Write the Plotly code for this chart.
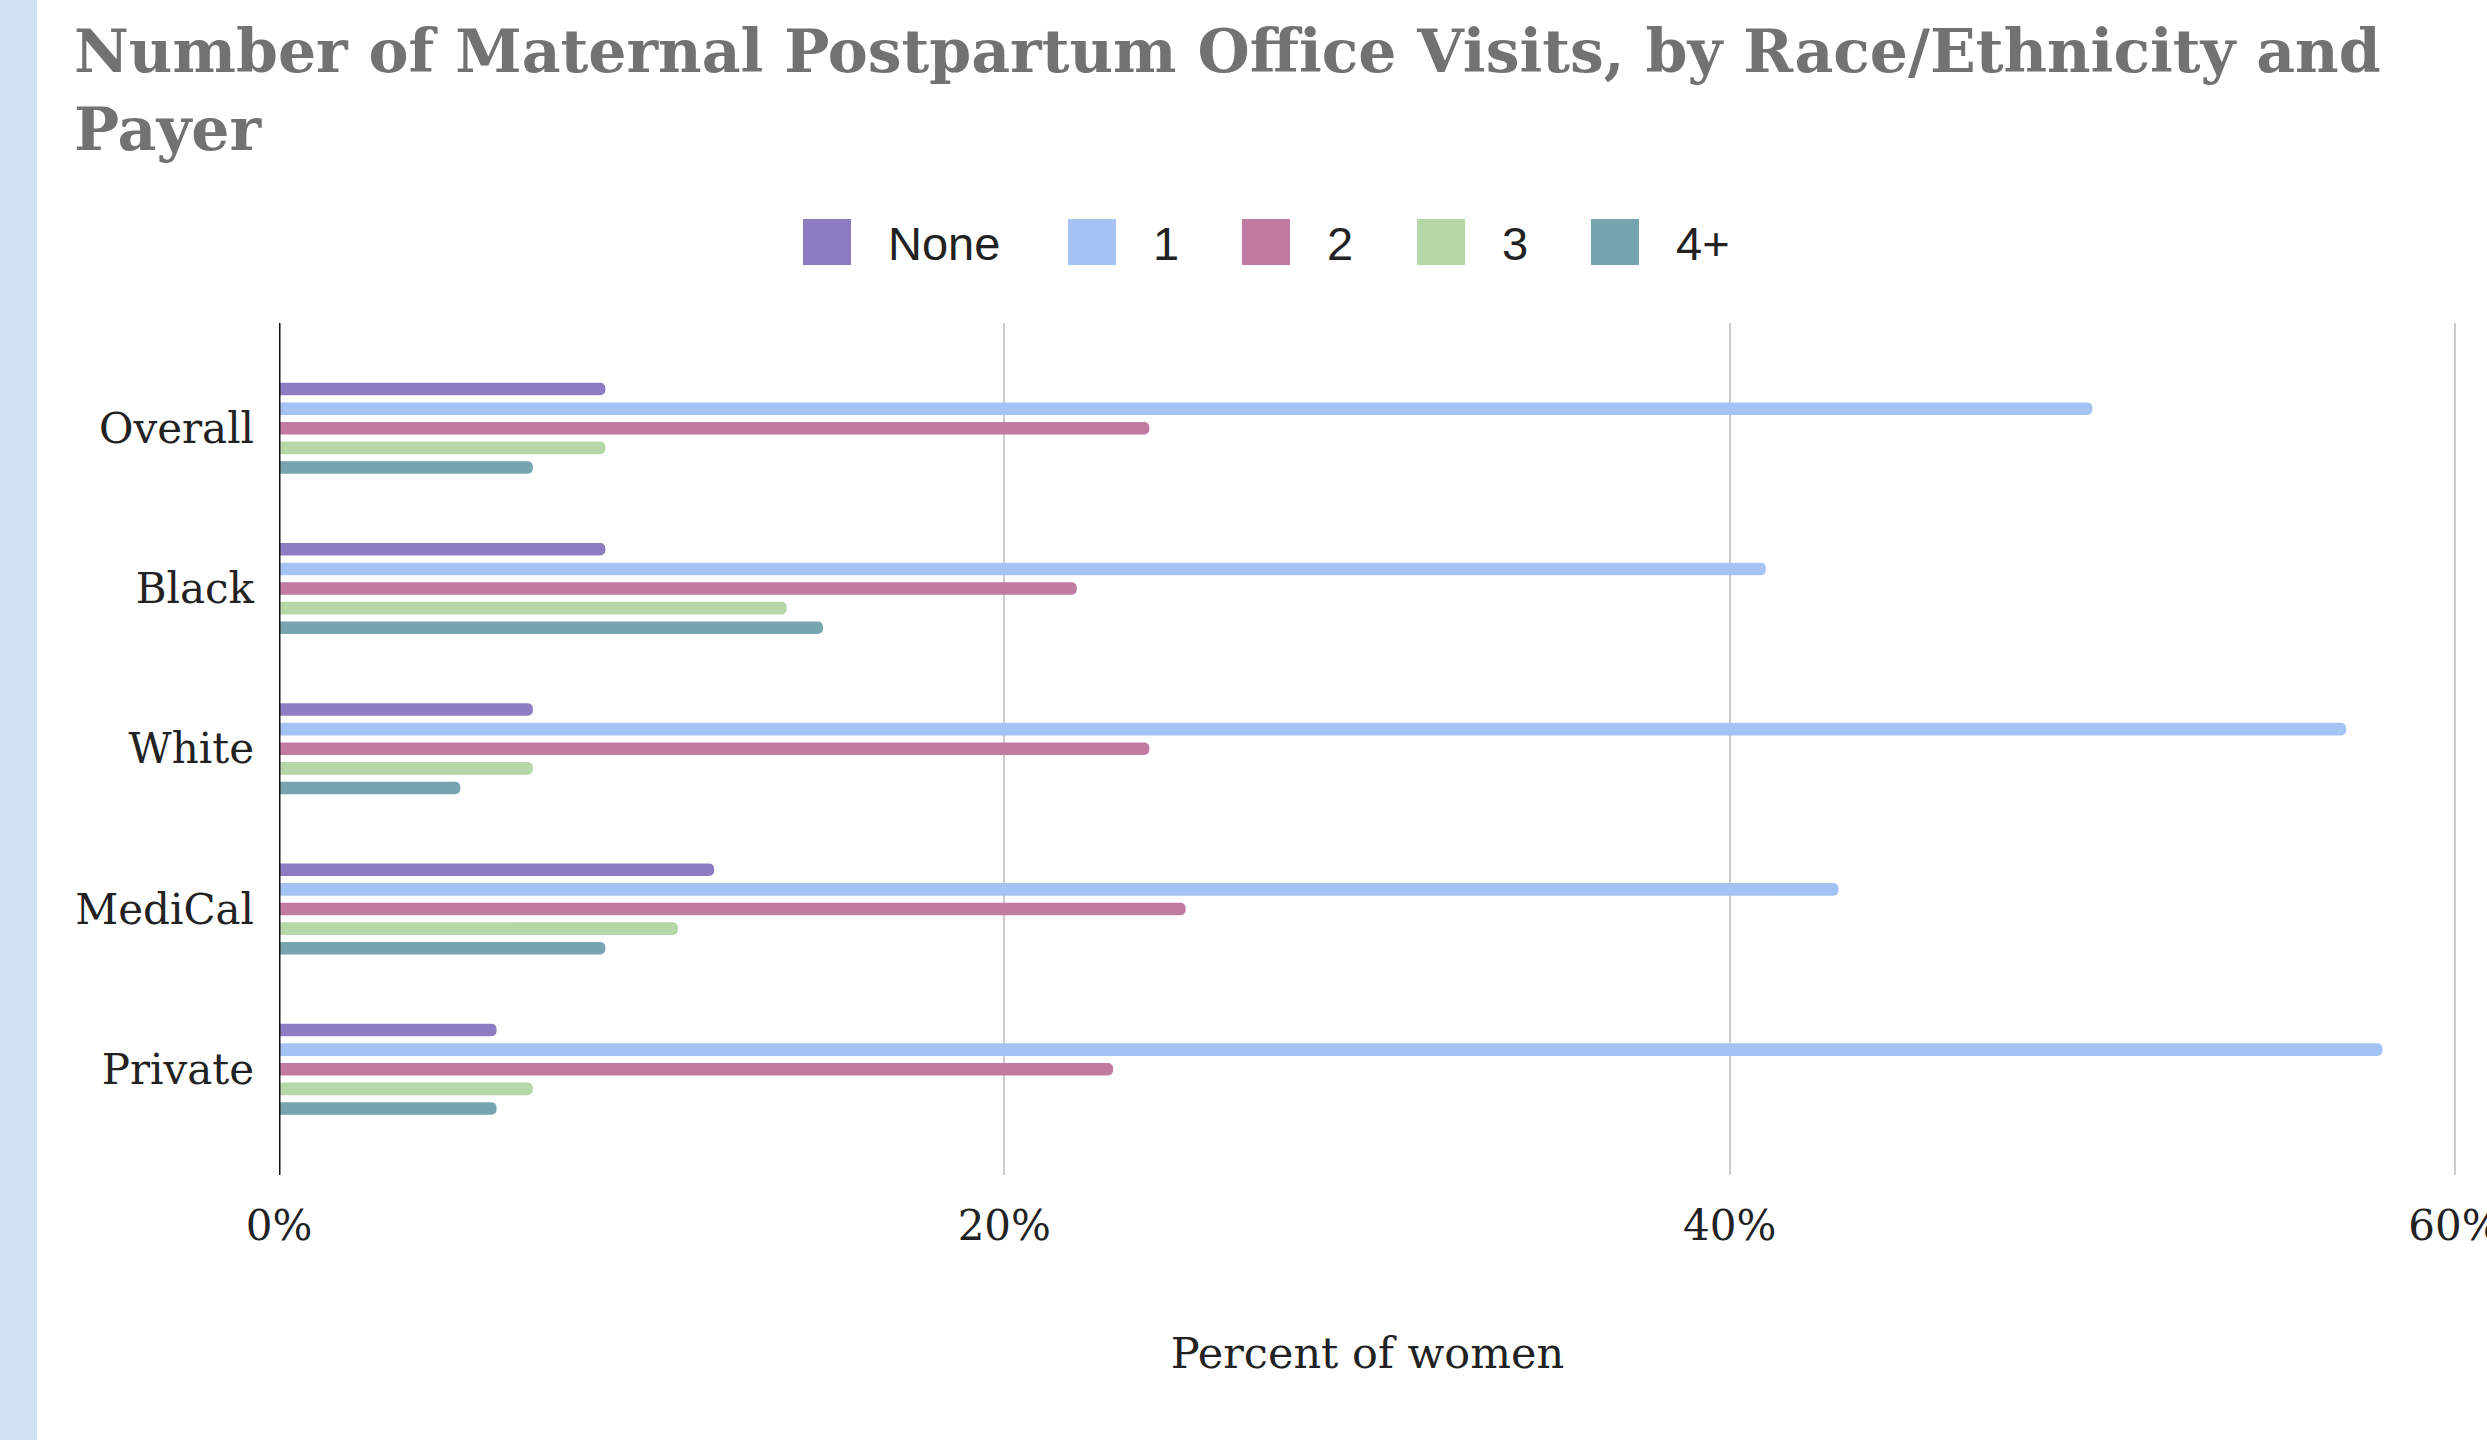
import plotly.graph_objects as go

# ---- data ----
categories = ["Overall", "Black", "White", "MediCal", "Private"]
series_names = ["None", "1", "2", "3", "4+"]
visits_none = [9, 9, 7, 12, 6]
visits_1 = [50, 41, 57, 43, 58]
visits_2 = [24, 22, 24, 25, 23]
visits_3 = [9, 14, 7, 11, 7]
visits_4plus = [7, 15, 5, 9, 6]
series_colors = ["#8e7cc3", "#a4c2f4", "#c27ba0", "#b6d7a8", "#76a5af"]
x_tick_vals = [0, 20, 40, 60]
x_tick_text = ["0%", "20%", "40%", "60%"]
title_text = "Number of Maternal Postpartum Office Visits, by Race/Ethnicity and<br>Payer"
x_title_text = "Percent of women"

series_values = [visits_none, visits_1, visits_2, visits_3, visits_4plus]

# ---- layout geometry (pixels) ----
W, H = 2487, 1440
ML, MR, MT, MB = 279, 31, 323, 265
PW, PH = W - ML - MR, H - MT - MB


def px_x(px):
    return (px - ML) / PW


def px_y(py):
    return (H - MB - py) / PH


fig = go.Figure()
for name, vals, col in zip(series_names, series_values, series_colors):
    fig.add_trace(go.Bar(
        y=categories, x=vals, name=name, orientation="h",
        marker=dict(color=col, line=dict(width=0), cornerradius=5),
        showlegend=False,
    ))

shapes = []
annotations = []

# left decorative strip
shapes.append(dict(type="rect", xref="paper", yref="paper",
                   x0=px_x(-5), x1=px_x(37), y0=px_y(H + 5), y1=px_y(-5),
                   fillcolor="#cfe2f3", line=dict(width=0), layer="below"))

# title
annotations.append(dict(xref="paper", yref="paper", x=px_x(72), y=px_y(14),
                        xanchor="left", yanchor="top", align="left", showarrow=False,
                        text=title_text,
                        font=dict(family="DejaVu Serif, serif", size=60,
                                  color="#727272", weight="bold")))

# custom legend
legend_swatch_left = [803, 1068, 1242, 1417, 1591]
for name, col, sx in zip(series_names, series_colors, legend_swatch_left):
    shapes.append(dict(type="rect", xref="paper", yref="paper",
                       x0=px_x(sx), x1=px_x(sx + 48), y0=px_y(265), y1=px_y(219),
                       fillcolor=col, line=dict(width=0)))
    annotations.append(dict(xref="paper", yref="paper", x=px_x(sx + 83), y=px_y(243),
                            xanchor="left", yanchor="middle", showarrow=False,
                            text=name,
                            font=dict(family="Liberation Sans, Arial, sans-serif",
                                      size=47, color="#222222")))

fig.update_layout(
    width=W, height=H,
    margin=dict(l=ML, r=MR, t=MT, b=MB, pad=0, autoexpand=False),
    paper_bgcolor="white", plot_bgcolor="white",
    barmode="group", bargap=0.388, bargroupgap=0.36,
    xaxis=dict(
        range=[0, 60.03], tickvals=x_tick_vals, ticktext=x_tick_text,
        automargin=False,
        showgrid=True, gridcolor="#cccccc", gridwidth=2,
        zeroline=False, showline=False, ticks="",
        ticklabelstandoff=22, ticklabeloverflow="allow",
        tickfont=dict(family="DejaVu Serif, serif", size=42, color="#222222"),
        title=dict(text=x_title_text, standoff=88,
                   font=dict(family="DejaVu Serif, serif", size=43, color="#222222")),
    ),
    yaxis=dict(
        autorange=False, range=[4.66, -0.657],
        automargin=False,
        showgrid=False, zeroline=False, showline=False, ticks="",
        ticklabelstandoff=24,
        tickfont=dict(family="DejaVu Serif, serif", size=42, color="#222222"),
    ),
    shapes=shapes,
    annotations=annotations,
)

# zero line at x=0 drawn from the x-axis scale
fig.add_vline(x=0, line=dict(color="#111111", width=3), layer="above")

fig.write_html("out.html")
